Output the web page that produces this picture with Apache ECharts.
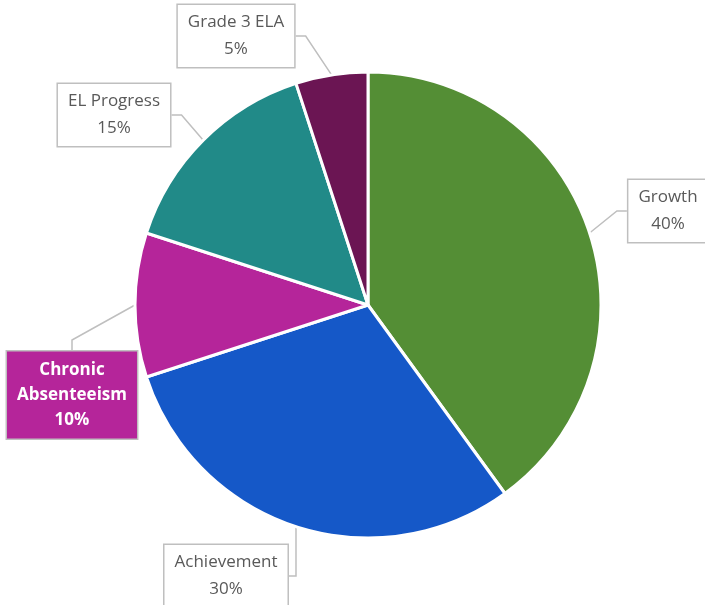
<!DOCTYPE html>
<html>
<head>
<meta charset="utf-8">
<script src="https://cdn.jsdelivr.net/npm/echarts@6/dist/echarts.min.js"></script>
<style>
  html, body { margin: 0; padding: 0; background: #fff; }
  #chart { width: 705px; height: 605px; }
</style>
</head>
<body>
<div id="chart"></div>
<script>
// 分类与数值
var categories = ['Growth', 'Achievement', 'Chronic Absenteeism', 'EL Progress', 'Grade 3 ELA'];
var values = [40, 30, 10, 15, 5];
var colors = ['#548e35', '#1558c8', '#b5259a', '#218a88', '#6b1553'];
// 标签显示文字（Chronic Absenteeism 分两行）
var labelNames = ['Growth', 'Achievement', 'Chronic\nAbsenteeism', 'EL Progress', 'Grade 3 ELA'];
// 标签框中心位置
var labelPos = [[668, 211], [226, 576], [72, 395], [114, 115], [236, 36]];

var chart = echarts.init(document.getElementById('chart'));

var data = categories.map(function (name, i) {
    var item = {
        name: name,
        value: values[i],
        itemStyle: { color: colors[i] }
    };
    // 高亮的标签：品红底白色粗体
    if (name === 'Chronic Absenteeism') {
        item.label = {
            backgroundColor: '#b5259a',
            color: '#fff',
            fontWeight: 'bold',
            lineHeight: 25,
            padding: [6, 10]
        };
    }
    return item;
});

var option = {
    animation: false,
    series: [{
        type: 'pie',
        center: [368, 305],
        radius: 233,
        startAngle: 90,
        clockwise: true,
        avoidLabelOverlap: false,
        itemStyle: {
            borderColor: '#fff',
            borderWidth: 3
        },
        label: {
            show: true,
            position: 'outside',
            formatter: function (p) {
                return labelNames[p.dataIndex] + '\n' + p.value + '%';
            },
            fontFamily: 'Open Sans',
            fontSize: 17,
            lineHeight: 27,
            color: '#595959',
            align: 'center',
            backgroundColor: '#fff',
            borderColor: '#bfbfbf',
            borderWidth: 1.5,
            padding: [4, 10]
        },
        labelLine: {
            show: true,
            length: 10,
            length2: 10,
            lineStyle: { color: '#bfbfbf', width: 1.5 }
        },
        labelLayout: function (params) {
            var p = labelPos[params.dataIndex];
            return {
                x: p[0],
                y: p[1],
                align: 'center',
                verticalAlign: 'middle'
            };
        },
        data: data
    }]
};

chart.setOption(option);
</script>
</body>
</html>
